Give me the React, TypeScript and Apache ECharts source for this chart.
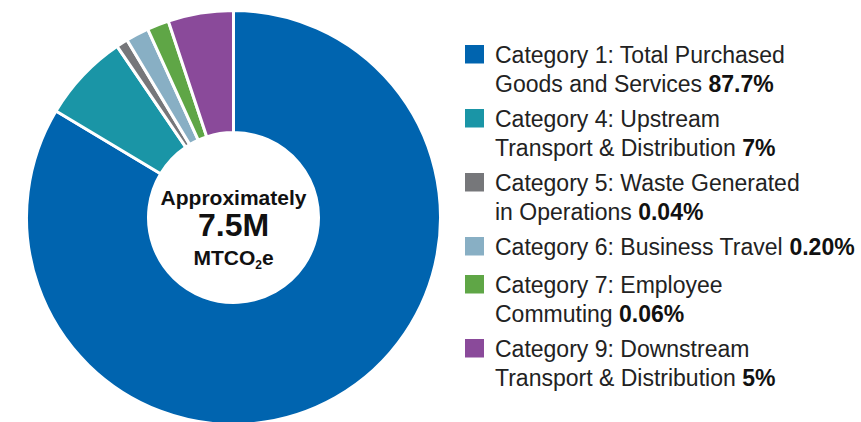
import React, { useEffect, useRef } from "react";
import * as echarts from "echarts";

const categories = [
  "Category 1: Total Purchased Goods and Services",
  "Category 4: Upstream Transport & Distribution",
  "Category 5: Waste Generated in Operations",
  "Category 6: Business Travel",
  "Category 7: Employee Commuting",
  "Category 9: Downstream Transport & Distribution",
];
// visual share of each slice (degrees of arc / 3.6)
const sliceValues = [83.6, 6.9, 0.9, 1.8, 1.7, 5.1];
const legendLines = [
  ["Category 1: Total Purchased", "Goods and Services "],
  ["Category 4: Upstream", "Transport & Distribution "],
  ["Category 5: Waste Generated", "in Operations "],
  ["Category 6: Business Travel "],
  ["Category 7: Employee", "Commuting "],
  ["Category 9: Downstream", "Transport & Distribution "],
];
const percentLabels = ["87.7%", "7%", "0.04%", "0.20%", "0.06%", "5%"];
const colors = ["#0064AF", "#1A95A6", "#76777A", "#88AFC4", "#5FA646", "#8A4A9A"];
const centerLines = ["Approximately", "7.5M"];

const FONT = "'Liberation Sans', Arial, Helvetica, sans-serif";

export default function App() {
  const ref = useRef<HTMLDivElement>(null);
  useEffect(() => {
    if (!ref.current) return;
    const chart = echarts.init(ref.current, undefined, { renderer: "svg" });
    const cx = 233.5;
    const cy = 217.5;

    const graphics: any[] = [];
    // center texts
    graphics.push({
      type: "text",
      x: cx,
      y: 197.5,
      silent: true,
      style: {
        text: centerLines[0],
        font: `bold 21px ${FONT}`,
        fill: "#111",
        align: "center",
        verticalAlign: "middle",
      },
    });
    graphics.push({
      type: "text",
      x: cx,
      y: 224.5,
      silent: true,
      style: {
        text: centerLines[1],
        font: `bold 32px ${FONT}`,
        fill: "#111",
        align: "center",
        verticalAlign: "middle",
      },
    });
    graphics.push({
      type: "text",
      x: cx,
      y: 257.5,
      silent: true,
      style: {
        text: "{m|MTCO}{s|2}{m|e}",
        align: "center",
        verticalAlign: "middle",
        rich: {
          m: { font: `bold 21px ${FONT}`, fill: "#111", lineHeight: 26 },
          s: { font: `bold 12px ${FONT}`, fill: "#111", lineHeight: 26, verticalAlign: "bottom" },
        },
      },
    });

    // legend
    const lx = 465;
    const tx = 495;
    const lineH = 29;
    let baseline = 63;
    legendLines.forEach((lines, i) => {
      graphics.push({
        type: "rect",
        silent: true,
        shape: { x: lx, y: baseline - 18, width: 19, height: 18.5 },
        style: { fill: colors[i] },
      });
      lines.forEach((ln, j) => {
        const last = j === lines.length - 1;
        graphics.push({
          type: "text",
          x: tx,
          y: baseline + j * lineH - 8,
          silent: true,
          style: {
            text: last ? `{r|${ln}}{b|${percentLabels[i]}}` : `{r|${ln}}`,
            verticalAlign: "middle",
            align: "left",
            rich: {
              r: { font: `23px ${FONT}`, fill: "#222" },
              b: { font: `bold 23px ${FONT}`, fill: "#111" },
            },
          },
        });
      });
      baseline += lines.length * lineH + (lines.length === 1 ? 9 : 6);
    });

    chart.setOption({
      animation: false,
      backgroundColor: "#ffffff",
      graphic: graphics,
      series: [
        {
          type: "pie",
          center: [cx, cy],
          radius: [85, 207],
          startAngle: 90,
          clockwise: true,
          silent: true,
          label: { show: false },
          labelLine: { show: false },
          itemStyle: { borderColor: "#ffffff", borderWidth: 3 },
          emphasis: { disabled: true },
          data: categories.map((name, i) => ({
            name,
            value: sliceValues[i],
            itemStyle: { color: colors[i] },
          })),
        },
      ],
    });
    return () => chart.dispose();
  }, []);
  return (
    <div
      ref={ref}
      style={{ position: "absolute", left: 0, top: 0, width: 861, height: 422 }}
    />
  );
}
